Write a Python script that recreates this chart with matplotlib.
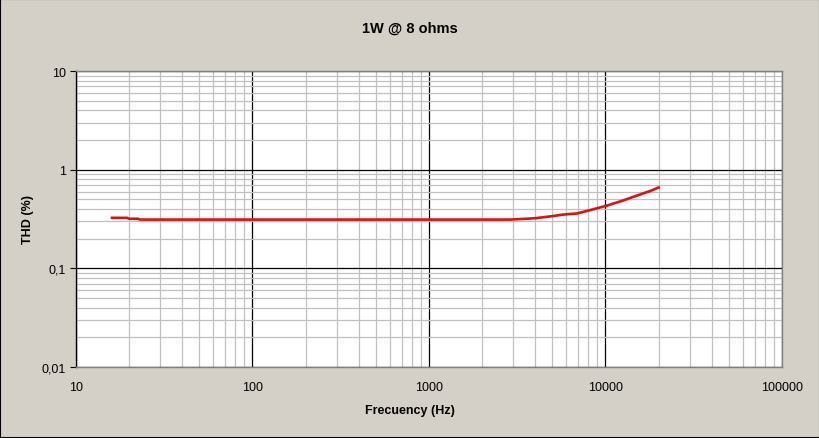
import matplotlib

matplotlib.use("Agg")
import matplotlib.pyplot as plt
from matplotlib.patches import Rectangle
from matplotlib.ticker import FixedLocator, LogLocator, NullFormatter

# Datos
freq_hz = [16, 19.5, 20, 22.5, 23, 50, 100, 200, 500, 1000, 2000, 2900, 4000,
           5000, 5700, 6900, 8000, 10000, 12500, 15000, 18000, 20000]
thd_pct = [0.325, 0.325, 0.318, 0.318, 0.312, 0.312, 0.312, 0.312, 0.312,
           0.312, 0.312, 0.312, 0.322, 0.338, 0.35, 0.36, 0.385, 0.428, 0.485,
           0.545, 0.61, 0.66]

x_ticks = [10, 100, 1000, 10000, 100000]
x_labels = ["10", "100", "1000", "10000", "100000"]
y_ticks = [0.01, 0.1, 1, 10]
y_labels = ["0,01", "0,1", "1", "10"]

bg = "#D4D0C8"
font = ["Liberation Sans", "DejaVu Sans"]

fig = plt.figure(figsize=(8.2, 4.39), dpi=100, facecolor=bg)
ax = fig.add_axes([76 / 820, 71 / 439, 706 / 820, 296 / 439])
ax.set_facecolor("white")

ax.plot(freq_hz, thd_pct, color="#DD1111", linewidth=1.9, zorder=5)

ax.set_xscale("log")
ax.set_yscale("log")
ax.set_xlim(10, 100000)
ax.set_ylim(0.01, 10)

ax.xaxis.set_major_locator(FixedLocator(x_ticks))
ax.yaxis.set_major_locator(FixedLocator(y_ticks))
ax.set_xticklabels(x_labels)
ax.set_yticklabels(y_labels)
ax.xaxis.set_minor_locator(LogLocator(base=10, subs=range(2, 10)))
ax.yaxis.set_minor_locator(LogLocator(base=10, subs=range(2, 10)))
ax.xaxis.set_minor_formatter(NullFormatter())
ax.yaxis.set_minor_formatter(NullFormatter())

ax.grid(True, which="minor", color="#C0C0C0", linewidth=0.9)
ax.grid(True, which="major", color="black", linewidth=0.9)
ax.set_axisbelow(True)

ax.tick_params(axis="x", which="both", length=0, pad=10, labelsize=9)
ax.tick_params(axis="y", which="major", length=4, direction="out", pad=3, labelsize=9)
ax.tick_params(axis="y", which="minor", length=0)
for lbl in ax.get_xticklabels() + ax.get_yticklabels():
    lbl.set_family(font)

for side in ["top", "right", "bottom"]:
    ax.spines[side].set_color("#808080")
    ax.spines[side].set_linewidth(1)
ax.spines["left"].set_color("black")
ax.spines["left"].set_linewidth(1)

fig.text(0.5, 1 - 29 / 439, "1W @ 8 ohms", ha="center", va="center",
         fontsize=10.5, fontweight="bold", family=font)
fig.text(0.5, 1 - 411 / 439, "Frecuency (Hz)", ha="center", va="center",
         fontsize=9, fontweight="bold", family=font)
fig.text(28 / 820, 1 - 220 / 439, "THD (%)", ha="center", va="center",
         rotation=90, fontsize=9, fontweight="bold", family=font)

fig.patches.append(Rectangle((0, 0), 1, 1, transform=fig.transFigure,
                             fill=False, edgecolor="black", linewidth=1.5))

fig.savefig("out.png", dpi=100, facecolor=bg)
